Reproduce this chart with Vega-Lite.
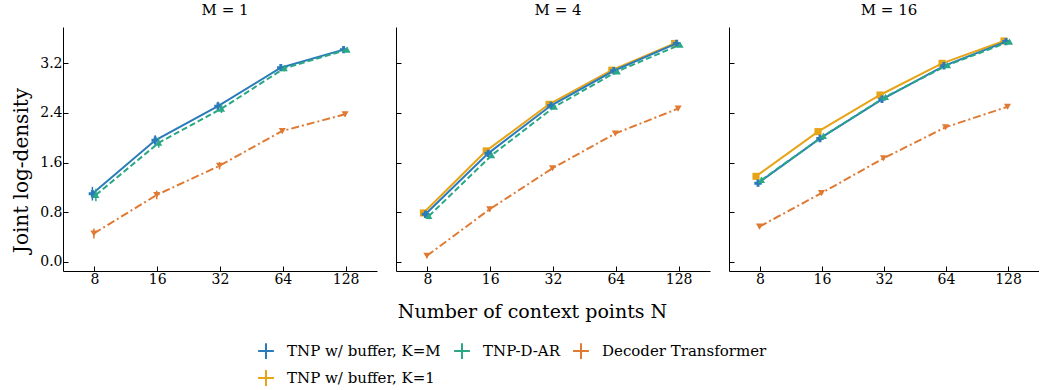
{
  "$schema": "https://vega.github.io/schema/vega-lite/v6.json",
  "background": "white",
  "padding": {"left": 11, "top": 3, "right": 0, "bottom": 0},
  "datasets": {
    "d": [
      {"M": 1, "method": "TNP w/ buffer, K=M", "N": 8, "y": 1.10, "err": 0.11},
      {"M": 1, "method": "TNP w/ buffer, K=M", "N": 16, "y": 1.96, "err": 0.08},
      {"M": 1, "method": "TNP w/ buffer, K=M", "N": 32, "y": 2.51, "err": 0.07},
      {"M": 1, "method": "TNP w/ buffer, K=M", "N": 64, "y": 3.13, "err": 0.05},
      {"M": 1, "method": "TNP w/ buffer, K=M", "N": 128, "y": 3.42, "err": 0.04},
      {"M": 1, "method": "TNP-D-AR", "N": 8, "y": 1.08, "err": 0.10},
      {"M": 1, "method": "TNP-D-AR", "N": 16, "y": 1.92, "err": 0.08},
      {"M": 1, "method": "TNP-D-AR", "N": 32, "y": 2.47, "err": 0.07},
      {"M": 1, "method": "TNP-D-AR", "N": 64, "y": 3.12, "err": 0.05},
      {"M": 1, "method": "TNP-D-AR", "N": 128, "y": 3.42, "err": 0.04},
      {"M": 1, "method": "Decoder Transformer", "N": 8, "y": 0.46, "err": 0.08},
      {"M": 1, "method": "Decoder Transformer", "N": 16, "y": 1.08, "err": 0.07},
      {"M": 1, "method": "Decoder Transformer", "N": 32, "y": 1.55, "err": 0.06},
      {"M": 1, "method": "Decoder Transformer", "N": 64, "y": 2.11, "err": 0.04},
      {"M": 1, "method": "Decoder Transformer", "N": 128, "y": 2.38, "err": 0.04},
      {"M": 4, "method": "TNP w/ buffer, K=1", "N": 8, "y": 0.79, "err": 0.05},
      {"M": 4, "method": "TNP w/ buffer, K=1", "N": 16, "y": 1.79, "err": 0.04},
      {"M": 4, "method": "TNP w/ buffer, K=1", "N": 32, "y": 2.54, "err": 0.03},
      {"M": 4, "method": "TNP w/ buffer, K=1", "N": 64, "y": 3.09, "err": 0.03},
      {"M": 4, "method": "TNP w/ buffer, K=1", "N": 128, "y": 3.52, "err": 0.03},
      {"M": 4, "method": "TNP w/ buffer, K=M", "N": 8, "y": 0.77, "err": 0.05},
      {"M": 4, "method": "TNP w/ buffer, K=M", "N": 16, "y": 1.75, "err": 0.04},
      {"M": 4, "method": "TNP w/ buffer, K=M", "N": 32, "y": 2.52, "err": 0.03},
      {"M": 4, "method": "TNP w/ buffer, K=M", "N": 64, "y": 3.08, "err": 0.03},
      {"M": 4, "method": "TNP w/ buffer, K=M", "N": 128, "y": 3.52, "err": 0.03},
      {"M": 4, "method": "TNP-D-AR", "N": 8, "y": 0.74, "err": 0.05},
      {"M": 4, "method": "TNP-D-AR", "N": 16, "y": 1.72, "err": 0.04},
      {"M": 4, "method": "TNP-D-AR", "N": 32, "y": 2.50, "err": 0.03},
      {"M": 4, "method": "TNP-D-AR", "N": 64, "y": 3.07, "err": 0.03},
      {"M": 4, "method": "TNP-D-AR", "N": 128, "y": 3.50, "err": 0.03},
      {"M": 4, "method": "Decoder Transformer", "N": 8, "y": 0.10, "err": 0.04},
      {"M": 4, "method": "Decoder Transformer", "N": 16, "y": 0.85, "err": 0.04},
      {"M": 4, "method": "Decoder Transformer", "N": 32, "y": 1.51, "err": 0.03},
      {"M": 4, "method": "Decoder Transformer", "N": 64, "y": 2.07, "err": 0.03},
      {"M": 4, "method": "Decoder Transformer", "N": 128, "y": 2.47, "err": 0.03},
      {"M": 16, "method": "TNP w/ buffer, K=1", "N": 8, "y": 1.38, "err": 0.05},
      {"M": 16, "method": "TNP w/ buffer, K=1", "N": 16, "y": 2.10, "err": 0.04},
      {"M": 16, "method": "TNP w/ buffer, K=1", "N": 32, "y": 2.69, "err": 0.03},
      {"M": 16, "method": "TNP w/ buffer, K=1", "N": 64, "y": 3.20, "err": 0.03},
      {"M": 16, "method": "TNP w/ buffer, K=1", "N": 128, "y": 3.56, "err": 0.03},
      {"M": 16, "method": "TNP w/ buffer, K=M", "N": 8, "y": 1.27, "err": 0.05},
      {"M": 16, "method": "TNP w/ buffer, K=M", "N": 16, "y": 1.99, "err": 0.04},
      {"M": 16, "method": "TNP w/ buffer, K=M", "N": 32, "y": 2.62, "err": 0.03},
      {"M": 16, "method": "TNP w/ buffer, K=M", "N": 64, "y": 3.16, "err": 0.03},
      {"M": 16, "method": "TNP w/ buffer, K=M", "N": 128, "y": 3.55, "err": 0.03},
      {"M": 16, "method": "TNP-D-AR", "N": 8, "y": 1.32, "err": 0.05},
      {"M": 16, "method": "TNP-D-AR", "N": 16, "y": 2.03, "err": 0.04},
      {"M": 16, "method": "TNP-D-AR", "N": 32, "y": 2.66, "err": 0.03},
      {"M": 16, "method": "TNP-D-AR", "N": 64, "y": 3.17, "err": 0.03},
      {"M": 16, "method": "TNP-D-AR", "N": 128, "y": 3.55, "err": 0.03},
      {"M": 16, "method": "Decoder Transformer", "N": 8, "y": 0.57, "err": 0.03},
      {"M": 16, "method": "Decoder Transformer", "N": 16, "y": 1.11, "err": 0.03},
      {"M": 16, "method": "Decoder Transformer", "N": 32, "y": 1.67, "err": 0.03},
      {"M": 16, "method": "Decoder Transformer", "N": 64, "y": 2.17, "err": 0.03},
      {"M": 16, "method": "Decoder Transformer", "N": 128, "y": 2.50, "err": 0.03}
    ]
  },
  "data": {"name": "d"},
  "spacing": 18,
  "resolve": {"scale": {"color": "shared"}, "legend": {"color": "shared"}},
  "hconcat": [
    {
      "width": 314, "height": 244,
      "title": {"text": "M = 1", "fontWeight": 400, "style": "paneltitle", "frame": "group", "dx": 5},
      "transform": [{"filter": "datum.M == 1"}],
      "encoding": {
        "x": {"field": "N", "type": "quantitative", "scale": {"type": "log", "base": 2, "domain": [5.657, 181.02], "nice": false}, "axis": {"values": [8, 16, 32, 64, 128], "title": null}},
        "y": {"field": "y", "type": "quantitative", "scale": {"domain": [-0.145, 3.785], "nice": false, "zero": false}, "axis": {"values": [0, 0.8, 1.6, 2.4, 3.2], "format": ".1f", "title": "Joint log-density", "titlePadding": 8, "titleFontSize": 20, "titleY": 143}},
        "color": {"field": "method", "type": "nominal", "scale": {"domain": ["TNP w/ buffer, K=M", "TNP-D-AR", "Decoder Transformer", "TNP w/ buffer, K=1"], "range": ["#2b7bba", "#2aa784", "#e07a33", "#e6a416"]}, "legend": {"title": null, "orient": "none", "legendX": 194, "legendY": 315, "columns": 3, "direction": "horizontal"}}
      },
      "layer": [
        {"transform": [{"filter": "datum.method == 'TNP w/ buffer, K=M'"}], "layer": [
          {"mark": {"type": "line", "strokeWidth": 2, "xOffset": -2}},
          {"mark": {"type": "errorbar", "ticks": false, "rule": {"xOffset": -2, "strokeWidth": 1.5}}, "encoding": {"yError": {"field": "err"}}},
          {"mark": {"type": "point", "filled": true, "opacity": 1, "shape": "cross", "size": 55, "xOffset": -2}}
        ]},
        {"transform": [{"filter": "datum.method == 'TNP-D-AR'"}], "layer": [
          {"mark": {"type": "line", "strokeWidth": 2, "strokeDash": [6, 3], "xOffset": 1.5}},
          {"mark": {"type": "errorbar", "ticks": false, "rule": {"xOffset": 1.5, "strokeWidth": 1.5}}, "encoding": {"yError": {"field": "err"}}},
          {"mark": {"type": "point", "filled": true, "opacity": 1, "shape": "triangle-up", "size": 50, "xOffset": 1.5}}
        ]},
        {"transform": [{"filter": "datum.method == 'Decoder Transformer'"}], "layer": [
          {"mark": {"type": "line", "strokeWidth": 2, "strokeDash": [8, 3, 2, 3], "xOffset": -0.5}},
          {"mark": {"type": "errorbar", "ticks": false, "rule": {"xOffset": -0.5, "strokeWidth": 1.5}}, "encoding": {"yError": {"field": "err"}}},
          {"mark": {"type": "point", "filled": true, "opacity": 1, "shape": "triangle-down", "size": 50, "xOffset": -0.5}}
        ]}
      ]
    },
    {
      "width": 314, "height": 244,
      "title": {"text": "M = 4", "fontWeight": 400, "style": "paneltitle", "frame": "group", "dx": 5},
      "transform": [{"filter": "datum.M == 4"}],
      "encoding": {
        "x": {"field": "N", "type": "quantitative", "scale": {"type": "log", "base": 2, "domain": [5.657, 181.02], "nice": false}, "axis": {"values": [8, 16, 32, 64, 128], "title": "Number of context points N", "titleX": 136, "titlePadding": 16}},
        "y": {"field": "y", "type": "quantitative", "scale": {"domain": [-0.145, 3.785], "nice": false, "zero": false}, "axis": {"values": [0, 0.8, 1.6, 2.4, 3.2], "labels": false, "title": null}},
        "color": {"field": "method", "type": "nominal", "scale": {"domain": ["TNP w/ buffer, K=M", "TNP-D-AR", "Decoder Transformer", "TNP w/ buffer, K=1"], "range": ["#2b7bba", "#2aa784", "#e07a33", "#e6a416"]}, "legend": {"title": null, "orient": "none", "legendX": 194, "legendY": 315, "columns": 3, "direction": "horizontal"}}
      },
      "layer": [
        {"transform": [{"filter": "datum.method == 'TNP w/ buffer, K=1'"}], "layer": [
          {"mark": {"type": "line", "strokeWidth": 2, "xOffset": -4}},
          {"mark": {"type": "errorbar", "ticks": false, "rule": {"xOffset": -4, "strokeWidth": 1.5}}, "encoding": {"yError": {"field": "err"}}},
          {"mark": {"type": "point", "filled": true, "opacity": 1, "shape": "square", "size": 50, "xOffset": -4}}
        ]},
        {"transform": [{"filter": "datum.method == 'TNP w/ buffer, K=M'"}], "layer": [
          {"mark": {"type": "line", "strokeWidth": 2, "xOffset": -2}},
          {"mark": {"type": "errorbar", "ticks": false, "rule": {"xOffset": -2, "strokeWidth": 1.5}}, "encoding": {"yError": {"field": "err"}}},
          {"mark": {"type": "point", "filled": true, "opacity": 1, "shape": "cross", "size": 55, "xOffset": -2}}
        ]},
        {"transform": [{"filter": "datum.method == 'TNP-D-AR'"}], "layer": [
          {"mark": {"type": "line", "strokeWidth": 2, "strokeDash": [6, 3], "xOffset": 1.5}},
          {"mark": {"type": "errorbar", "ticks": false, "rule": {"xOffset": 1.5, "strokeWidth": 1.5}}, "encoding": {"yError": {"field": "err"}}},
          {"mark": {"type": "point", "filled": true, "opacity": 1, "shape": "triangle-up", "size": 50, "xOffset": 1.5}}
        ]},
        {"transform": [{"filter": "datum.method == 'Decoder Transformer'"}], "layer": [
          {"mark": {"type": "line", "strokeWidth": 2, "strokeDash": [8, 3, 2, 3], "xOffset": -0.5}},
          {"mark": {"type": "errorbar", "ticks": false, "rule": {"xOffset": -0.5, "strokeWidth": 1.5}}, "encoding": {"yError": {"field": "err"}}},
          {"mark": {"type": "point", "filled": true, "opacity": 1, "shape": "triangle-down", "size": 50, "xOffset": -0.5}}
        ]}
      ]
    },
    {
      "width": 310, "height": 244,
      "title": {"text": "M = 16", "fontWeight": 400, "style": "paneltitle", "frame": "group", "dx": 5},
      "transform": [{"filter": "datum.M == 16"}],
      "encoding": {
        "x": {"field": "N", "type": "quantitative", "scale": {"type": "log", "base": 2, "domain": [5.657, 181.02], "nice": false}, "axis": {"values": [8, 16, 32, 64, 128], "title": null}},
        "y": {"field": "y", "type": "quantitative", "scale": {"domain": [-0.145, 3.785], "nice": false, "zero": false}, "axis": {"values": [0, 0.8, 1.6, 2.4, 3.2], "labels": false, "title": null}},
        "color": {"field": "method", "type": "nominal", "scale": {"domain": ["TNP w/ buffer, K=M", "TNP-D-AR", "Decoder Transformer", "TNP w/ buffer, K=1"], "range": ["#2b7bba", "#2aa784", "#e07a33", "#e6a416"]}, "legend": {"title": null, "orient": "none", "legendX": 194, "legendY": 315, "columns": 3, "direction": "horizontal"}}
      },
      "layer": [
        {"transform": [{"filter": "datum.method == 'TNP w/ buffer, K=1'"}], "layer": [
          {"mark": {"type": "line", "strokeWidth": 2, "xOffset": -4}},
          {"mark": {"type": "errorbar", "ticks": false, "rule": {"xOffset": -4, "strokeWidth": 1.5}}, "encoding": {"yError": {"field": "err"}}},
          {"mark": {"type": "point", "filled": true, "opacity": 1, "shape": "square", "size": 50, "xOffset": -4}}
        ]},
        {"transform": [{"filter": "datum.method == 'TNP w/ buffer, K=M'"}], "layer": [
          {"mark": {"type": "line", "strokeWidth": 2, "xOffset": -2}},
          {"mark": {"type": "errorbar", "ticks": false, "rule": {"xOffset": -2, "strokeWidth": 1.5}}, "encoding": {"yError": {"field": "err"}}},
          {"mark": {"type": "point", "filled": true, "opacity": 1, "shape": "cross", "size": 55, "xOffset": -2}}
        ]},
        {"transform": [{"filter": "datum.method == 'TNP-D-AR'"}], "layer": [
          {"mark": {"type": "line", "strokeWidth": 2, "strokeDash": [6, 3], "xOffset": 1.5}},
          {"mark": {"type": "errorbar", "ticks": false, "rule": {"xOffset": 1.5, "strokeWidth": 1.5}}, "encoding": {"yError": {"field": "err"}}},
          {"mark": {"type": "point", "filled": true, "opacity": 1, "shape": "triangle-up", "size": 50, "xOffset": 1.5}}
        ]},
        {"transform": [{"filter": "datum.method == 'Decoder Transformer'"}], "layer": [
          {"mark": {"type": "line", "strokeWidth": 2, "strokeDash": [8, 3, 2, 3], "xOffset": -0.5}},
          {"mark": {"type": "errorbar", "ticks": false, "rule": {"xOffset": -0.5, "strokeWidth": 1.5}}, "encoding": {"yError": {"field": "err"}}},
          {"mark": {"type": "point", "filled": true, "opacity": 1, "shape": "triangle-down", "size": 50, "xOffset": -0.5}}
        ]}
      ]
    }
  ],
  "config": {
    "font": "DejaVu Serif",
    "view": {"stroke": null},
    "title": {"font": "DejaVu Serif", "fontSize": 15, "fontWeight": "normal", "color": "black", "offset": 9},
    "style": {"paneltitle": {"font": "DejaVu Serif", "fontSize": 15, "fontWeight": "normal", "fill": "black"}, "group-title": {"fontWeight": "normal"}},
    "axis": {
      "grid": false,
      "domainColor": "black",
      "domainWidth": 1,
      "tickColor": "black",
      "tickSize": -5,
      "tickWidth": 1,
      "labelFont": "DejaVu Serif",
      "labelFontSize": 14,
      "labelColor": "black",
      "labelPadding": 6,
      "titleFont": "DejaVu Serif",
      "titleFontSize": 19,
      "titleFontWeight": "normal",
      "titleColor": "black"
    },
    "legend": {
      "labelFont": "DejaVu Serif",
      "labelFontSize": 15,
      "labelColor": "black",
      "labelLimit": 400,
      "symbolType": "M-1,0L1,0M0,-1L0,1",
      "symbolSize": 250,
      "symbolStrokeWidth": 2,
      "rowPadding": 3,
      "columnPadding": 9,
      "labelOffset": 12
    }
  }
}
